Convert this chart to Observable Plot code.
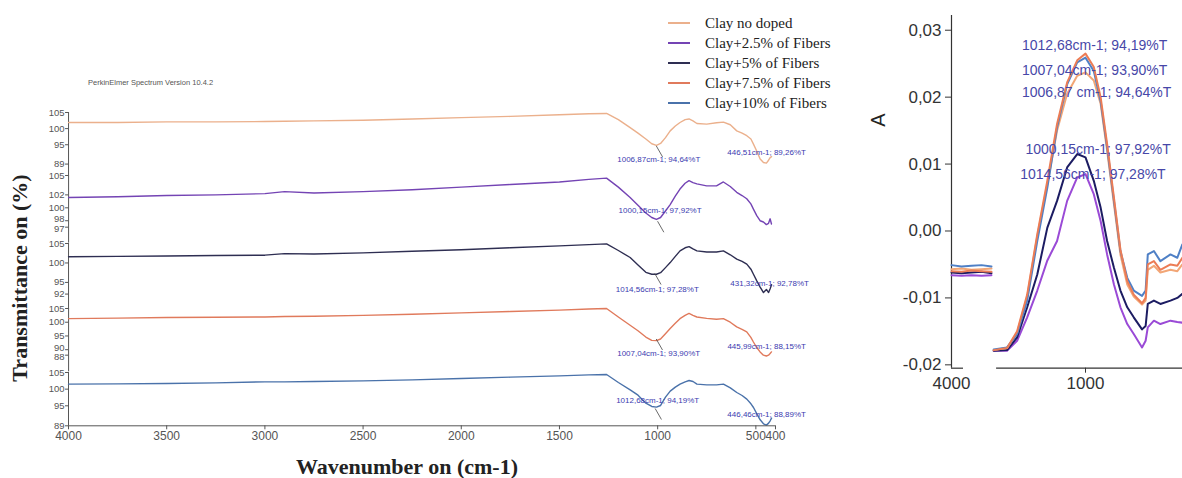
<!DOCTYPE html>
<html><head><meta charset="utf-8">
<script src="https://cdn.jsdelivr.net/npm/d3@7"></script>
<script src="https://cdn.jsdelivr.net/npm/@observablehq/plot@0.6"></script>
<style>
body{margin:0;background:#fff;overflow:hidden}
#root{position:relative;width:1182px;height:478px;overflow:hidden;background:#fff}
.abs{position:absolute;white-space:nowrap}
.ctr{transform:translate(-50%,-50%)}
</style></head><body><div id="root"></div>
<script>
// ---------- DATA ----------
const seriesNames = ["Clay no doped","Clay+2.5% of Fibers","Clay+5% of Fibers","Clay+7.5% of Fibers","Clay+10% of Fibers"];

// Left chart: transmittance spectra (%T) vs wavenumber (cm-1)
const wavenumber = [4000,3750,3500,3250,3000,2900,2750,2500,2250,2000,1750,1500,1350,1260,1200,1140,1100,1060,1030,1006,985,960,936,910,886,860,840,820,800,750,700,665,630,597,570,546,525,512,495,478,461,446,435,427,420];
const tNoDoped = [101.9,101.9,102.1,102.1,102.2,102.3,102.4,102.6,103.0,103.4,103.8,104.3,104.6,104.7,102.8,100.3,98.6,96.8,95.3,94.8,95.4,97.2,99.3,100.8,101.9,102.8,103.0,102.4,101.6,101.4,101.8,102.0,101.2,99.3,98.6,97.8,96.8,95.2,93.0,90.6,89.5,89.3,90.2,91.0,91.3];
const t2_5 = [101.6,101.7,101.9,102.0,102.2,102.5,102.3,102.5,102.8,103.2,103.6,104.0,104.4,104.6,103.2,101.6,100.4,99.2,98.5,98.2,98.5,99.5,100.5,101.8,102.9,103.8,104.2,103.9,103.7,103.4,103.4,104.0,103.3,102.4,101.9,101.4,100.6,99.8,98.8,98.0,97.8,97.4,97.6,98.3,97.5];
const t5 = [101.6,101.7,101.8,101.9,102.0,102.4,102.3,102.6,103.0,103.4,103.9,104.4,104.7,104.9,103.2,101.4,99.5,97.6,97.1,97.1,97.5,98.8,100.1,101.7,103.1,103.9,104.2,103.6,103.1,102.8,102.8,103.1,102.1,101.0,100.4,99.7,98.4,97.1,95.4,93.8,92.4,93.2,92.4,93.4,94.4];
const t7_5 = [101.3,101.5,101.7,101.8,101.9,102.1,102.2,102.5,102.9,103.4,103.9,104.4,104.8,105.0,101.9,98.9,96.9,94.6,93.4,93.3,93.9,95.8,97.7,99.6,101.3,102.5,103.2,102.5,101.9,101.4,101.1,101.3,100.0,98.3,97.4,96.5,94.5,92.8,90.8,89.2,88.0,87.7,88.0,88.6,89.2];
const t10 = [101.5,101.6,101.7,101.9,102.2,102.2,102.3,102.5,102.8,103.2,103.6,104.0,104.3,104.4,102.0,99.8,98.2,95.8,94.8,94.6,95.1,97.6,99.4,100.6,101.5,102.2,102.6,102.3,101.5,101.3,101.3,101.5,100.4,99.0,98.1,97.0,95.6,94.5,92.6,90.8,89.6,89.2,89.8,90.5,91.3];
const transmittance = [tNoDoped, t2_5, t5, t7_5, t10];

const xTickValues = [4000,3500,3000,2500,2000,1500,1000,500,400];
const yTickValues = [[105,100,95,89],[105,102,100,98,97],[105,100,95,92],[105,100,95,90,88],[105,100,95,89]];
const yDomains = [[89,105],[97,105],[92,105],[88,105],[89,105]];

const peakLabels = [
  ["1006,87cm-1; 94,64%T","446,51cm-1; 89,26%T"],
  ["1000,15cm-1; 97,92%T"],
  ["1014,56cm-1; 97,28%T","431,32cm-1; 92,78%T"],
  ["1007,04cm-1; 93,90%T","445,99cm-1; 88,15%T"],
  ["1012,68cm-1; 94,19%T","446,46cm-1; 88,89%T"]
];

// Right chart: absorbance (A) vs wavenumber, broken x axis
const absWnLeft = [4000,3950,3900,3850,3800];
const aLeftNoDoped = [-0.0057,-0.0056,-0.0058,-0.0057,-0.0056];
const aLeft2_5 = [-0.0066,-0.0067,-0.0066,-0.0067,-0.0066];
const aLeft5 = [-0.0062,-0.0063,-0.0062,-0.0061,-0.0063];
const aLeft7_5 = [-0.0060,-0.0061,-0.0059,-0.0060,-0.0061];
const aLeft10 = [-0.0051,-0.0053,-0.0052,-0.0051,-0.0053];

const absWn = [1255,1218,1190,1162,1134,1106,1079,1051,1023,1000,977,958,940,921,903,884,866,843,833,827,810,792,764,745,731];
const aNoDoped = [-0.0178,-0.0175,-0.0152,-0.0098,-0.0008,0.0070,0.0150,0.0205,0.0232,0.0237,0.0225,0.0190,0.0120,0.0040,-0.0035,-0.0080,-0.0098,-0.0110,-0.0104,-0.0058,-0.0052,-0.0062,-0.0058,-0.0060,-0.0050];
const a2_5 = [-0.0179,-0.0179,-0.0164,-0.0129,-0.0089,-0.0044,-0.0015,0.0045,0.0080,0.0085,0.0055,0.0015,-0.0035,-0.0080,-0.0114,-0.0139,-0.0154,-0.0174,-0.0164,-0.0144,-0.0134,-0.0139,-0.0134,-0.0136,-0.0137];
const a5 = [-0.0179,-0.0178,-0.0159,-0.0114,-0.0065,0.0005,0.0045,0.0095,0.0115,0.0110,0.0075,0.0035,-0.0015,-0.0055,-0.0089,-0.0114,-0.0129,-0.0147,-0.0142,-0.0109,-0.0104,-0.0109,-0.0104,-0.0100,-0.0094];
const a7_5 = [-0.0178,-0.0175,-0.0150,-0.0095,-0.0005,0.0075,0.0160,0.0222,0.0255,0.0265,0.0245,0.0200,0.0130,0.0050,-0.0028,-0.0075,-0.0095,-0.0108,-0.0100,-0.0050,-0.0045,-0.0058,-0.0050,-0.0052,-0.0040];
const a10 = [-0.0177,-0.0174,-0.0154,-0.0104,-0.0015,0.0065,0.0155,0.0219,0.0252,0.0259,0.0239,0.0194,0.0125,0.0045,-0.0030,-0.0070,-0.0089,-0.0097,-0.0089,-0.0035,-0.0030,-0.0045,-0.0035,-0.0040,-0.0020];
const absLeft = [aLeftNoDoped, aLeft2_5, aLeft5, aLeft7_5, aLeft10];
const absRight = [aNoDoped, a2_5, a5, a7_5, a10];
const aTickValues = [-0.02,-0.01,0,0.01,0.02,0.03];
const aXTickLeft = [4000];
const aXTickRight = [1000];
const absLabels = [
  {s:4, text:"1012,68cm-1; 94,19%T"},
  {s:3, text:"1007,04cm-1; 93,90%T"},
  {s:0, text:"1006,87 cm-1; 94,64%T"},
  {s:1, text:"1000,15cm-1; 97,92%T"},
  {s:2, text:"1014,56cm-1; 97,28%T"}
];

// ---------- LAYOUT / STYLE ----------
const leftColors = ["#ebb08c","#7444b4","#2e2e52","#e07a5c","#4a72aa"];
const rightColors = ["#f2a676","#9a4ad6","#1c1c62","#ec7c55","#4f80c6"];
const panelPx = [[111.7,163.3],[175,226.7],[242.7,293.3],[308.3,355],[371.7,425]]; // [top, bottom] in page px
const tickLabelNudge = [[0,0,0,0],[0,0,0,-2,1.5],[0,0,0,0],[0,0,0,-2,1.5],[0,0,0,0]];
const labelDy = [[14,-10.5],[-11],[16,-8],[14,-8],[-8,-12]];
const absLabelOff = [[-59,-12],[-61,17],[-61,20],[-60,-25],[-60,20]];
const annColor = "#3b3bb0";
const axisColor = "#555";
const sans = "Arial, 'Liberation Sans', sans-serif";

const root = document.getElementById("root");
function place(el, left, top){ el.style.position="absolute"; el.style.left=left+"px"; el.style.top=top+"px"; root.appendChild(el); return el; }
function addText(txt, left, top, css, cls){ const d=document.createElement("div"); d.className="abs "+(cls||""); d.textContent=txt; d.style.cssText+=css; place(d,left,top); return d; }
const parseNum = s => parseFloat(s.replace(",", "."));

// ---------- LEFT: stacked transmittance panels ----------
const xPxPerUnit = (775 - 68) / 3600;
for (let i = 0; i < 5; i++) {
  const [top, bottom] = panelPx[i];
  const h = bottom - top;
  const last = i === 4;
  const mb = last ? 30 : 0;
  const [lo, hi] = yDomains[i];
  const pxPerUnit = h / (hi - lo);
  const nextTop = last ? bottom : panelPx[i+1][0];
  const ruleBottom = lo - (nextTop - bottom) / pxPerUnit;
  const rows = wavenumber.map((w, k) => ({w, t: transmittance[i][k]}));
  const tickRows = yTickValues[i].map((v, k) => ({v, nudge: tickLabelNudge[i][k]}));
  const marks = [
    Plot.ruleX([4000], {y1: ruleBottom, y2: hi, stroke: axisColor, strokeWidth: 1}),
    Plot.ruleY(tickRows, {y: "v", x1: 4000, x2: 4000 + 3 / xPxPerUnit, stroke: axisColor, strokeWidth: 1}),
    Plot.line(rows, {x: "w", y: "t", stroke: leftColors[i], strokeWidth: 1.4})
  ];
  tickRows.forEach(r => marks.push(Plot.text([r], {x: () => 4000, y: "v", text: d => String(d.v), textAnchor: "end", dx: -4, dy: r.nudge, fill: axisColor, fontSize: 9.5, fontFamily: sans})));
  if (last) marks.push(Plot.ruleY([lo], {stroke: axisColor, strokeWidth: 1}));
  peakLabels[i].forEach((txt, j) => {
    const w = parseNum(txt.split("cm")[0]);
    const t = parseNum(txt.split(";")[1]);
    const d = [{w, t, txt}];
    marks.push(Plot.text(d, {x: "w", y: "t", text: "txt", textAnchor: "start", dx: -39, dy: labelDy[i][j], fill: annColor, fontSize: 8, fontFamily: sans}));
    if (w > 900) marks.push(Plot.link(d, {x1: "w", y1: "t", x2: r => r.w - 32, y2: r => r.t - 11 / pxPerUnit, stroke: "#444", strokeWidth: 0.8}));
  });
  const svg = Plot.plot({
    width: 790, height: h + mb, marginLeft: 68, marginRight: 15, marginTop: 0, marginBottom: mb,
    x: {domain: [4000, 400], ticks: xTickValues, tickFormat: d => String(d), tickSize: 4, tickPadding: 2, label: null, axis: last ? "bottom" : null},
    y: {domain: [lo, hi], label: null, axis: null},
    style: {background: "transparent", overflow: "visible", fontFamily: sans, fontSize: "12px", color: axisColor},
    marks
  });
  place(svg, 0, top);
}

// ---------- RIGHT: absorbance with broken x axis ----------
const yA = {domain: [-0.0205, 0.0322], ticks: aTickValues, tickFormat: d => d3.format(".2f")(d).replace(".", ",").replace("\u2212", "-"), tickSize: 6, tickPadding: 4, label: null};
const rTop = 14.6, rH = 367.3 - 14.6;
const rStyle = {background: "transparent", overflow: "visible", fontFamily: sans, fontSize: "17px", color: "#333"};
const drawOrder = [1, 2, 0, 4, 3];

const leftMarks = [Plot.ruleX([4000], {stroke: "#333", strokeWidth: 1.2}), Plot.ruleY([-0.0205], {x1: 4000, x2: 3940, stroke: "#333", strokeWidth: 1.2})];
drawOrder.forEach(s => leftMarks.push(Plot.line(absWnLeft.map((w, k) => ({w, a: absLeft[s][k]})), {x: "w", y: "a", stroke: rightColors[s], strokeWidth: 2})));
place(Plot.plot({
  width: 145, height: rH + 30, marginLeft: 100, marginRight: 5, marginTop: 0, marginBottom: 30,
  x: {domain: [4000, 3800], ticks: aXTickLeft, tickFormat: d => String(d), tickSize: 0, tickPadding: 9, label: null},
  y: yA, style: rStyle, marks: leftMarks
}), 851, rTop);

const rightMarks = [Plot.ruleY([-0.0205], {x1: 1247, x2: 730.6, stroke: "#333", strokeWidth: 1.2})];
drawOrder.forEach(s => rightMarks.push(Plot.line(absWn.map((w, k) => ({w, a: absRight[s][k]})), {x: "w", y: "a", stroke: rightColors[s], strokeWidth: 2})));
absLabels.forEach((L, j) => {
  const w = parseNum(L.text.split("cm")[0]);
  const a = d3.max(absRight[L.s]);
  rightMarks.push(Plot.text([{w, a, t: L.text}], {x: "w", y: "a", text: "t", textAnchor: "start", dx: absLabelOff[j][0], dy: absLabelOff[j][1], fill: "#4747a8", fontSize: 14, fontFamily: sans}));
});
place(Plot.plot({
  width: 196, height: rH + 30, marginLeft: 0, marginRight: 0, marginTop: 0, marginBottom: 30,
  x: {domain: [1275, 730.6], ticks: aXTickRight, tickFormat: d => String(d), tickSize: 5, tickPadding: 4, label: null},
  y: {...yA, axis: null}, style: rStyle, marks: rightMarks
}), 986, rTop);

// ---------- TEXT: titles, legend ----------
addText("A", 878, 120, "font:20px Arial,'Liberation Sans',sans-serif;color:#222;transform:translate(-50%,-50%) rotate(-90deg);");
addText("Transmittance on (%)", 20, 278, "font:bold 22px 'Liberation Serif','Times New Roman',serif;color:#222;transform:translate(-50%,-50%) rotate(-90deg);");
addText("Wavenumber on (cm-1)", 407, 467, "font:bold 22px 'Liberation Serif','Times New Roman',serif;color:#222;", "ctr");
addText("PerkinElmer Spectrum Version 10.4.2", 88, 78, "font:7.5px Arial,'Liberation Sans',sans-serif;color:#555;");
const legendY = [23, 43, 63, 83, 103];
seriesNames.forEach((n, i) => {
  const ln = document.createElement("div");
  ln.style.cssText = `width:22px;height:2px;background:${leftColors[i]};`;
  place(ln, 668, legendY[i] - 1);
  addText(n, 705, legendY[i] - 10, "font:15px 'Liberation Serif','Times New Roman',serif;color:#222;line-height:20px;");
});
</script></body></html>
